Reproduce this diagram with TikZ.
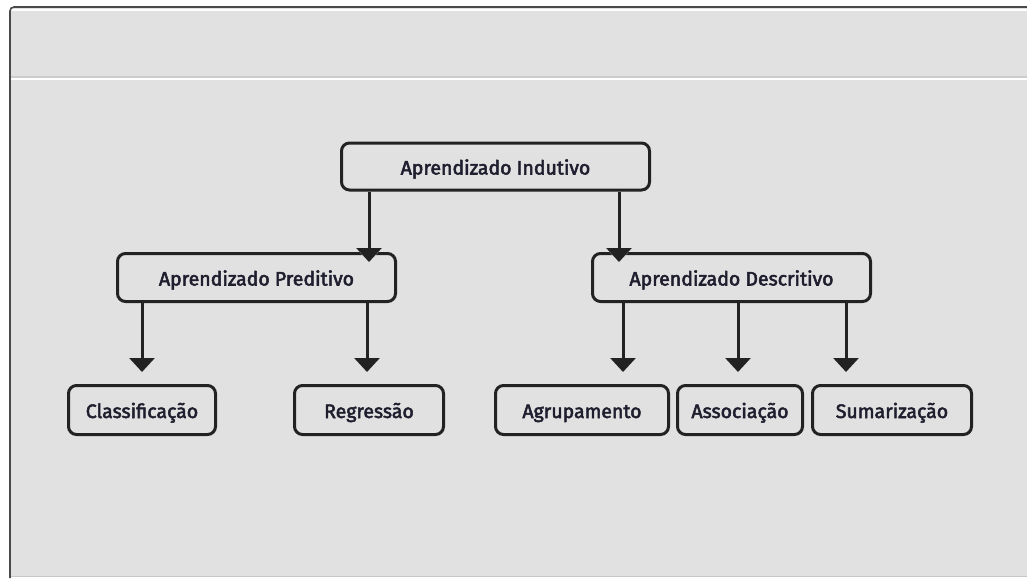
\documentclass[tikz,border=0pt]{standalone}
\usepackage{fontspec}
\setmainfont{Fira Sans}
\newfontfamily\boxfont[FakeBold=2.6]{Fira Sans}
\usetikzlibrary{arrows.meta,calc}
\definecolor{panel}{HTML}{E1E1E1}
\definecolor{frameline}{HTML}{4A4A4A}
\definecolor{ink}{HTML}{222222}
\definecolor{textc}{HTML}{1E1E2E}
\tikzset{
  box/.style={draw=ink, line width=3pt, rounded corners=8pt, fill=panel,
    inner sep=0pt, text height=17pt, text depth=1pt, text=textc,
    font=\boxfont\fontsize{19.5}{22}\selectfont},
  arr/.style={draw=ink, line width=3pt,
    -{Triangle[width=25pt,length=14pt]}},
  halo/.style={draw=panel, line width=7pt, shorten <=45pt,
    -{Triangle[width=33pt,length=18pt]}},
}
\begin{document}
\begin{tikzpicture}[x=1pt,y=-1pt]
  \useasboundingbox (0,0) rectangle (1027,578);
  % window panel
  \fill[white] (0,0) rectangle (1027,578);
  \fill[panel] (10,7) rectangle (1027,576);
  \draw[white, line width=2pt] (11,10) -- (1027,10);
  \draw[frameline, line width=1.6pt] (10,578) -- (10,11) arc[start angle=180, end angle=270, radius=4] -- (1027,7);
  \draw[black!20, line width=2pt] (11,76.5) -- (1027,76.5);
  \draw[white, line width=1.5pt] (11,79) -- (1027,79);
  \draw[black!22, line width=1.5pt] (11,576.5) -- (1027,576.5);

  % hierarchy of boxes
  \node[box, minimum width=308pt, minimum height=47pt] (ind) at (495.5,166.5) {Aprendizado Indutivo};
  \node[box, minimum width=278pt, minimum height=48pt] (pred) at (256.5,277.5) {Aprendizado Preditivo};
  \node[box, minimum width=278pt, minimum height=48pt] (desc) at (731.5,277.5) {Aprendizado Descritivo};
  \node[box, minimum width=147pt, minimum height=49pt] (cls) at (142,410) {Classificação};
  \node[box, minimum width=149pt, minimum height=49pt] (reg) at (369,410) {Regressão};
  \node[box, minimum width=173pt, minimum height=49pt] (agr) at (582,410) {Agrupamento};
  \node[box, minimum width=125pt, minimum height=49pt] (ass) at (740,410) {Associação};
  \node[box, minimum width=159pt, minimum height=49pt] (sum) at (892,410) {Sumarização};

  % arrows from the root, cutting into the top border of the children
  \foreach \dx/\child in {29/pred, 279/desc}{
    \draw[halo] ($(ind.south west)+(\dx,0)$) -- ($(ind.south west |- \child.north)+(\dx,10)$);
    \draw[arr] ($(ind.south west)+(\dx,0)$) -- ($(ind.south west |- \child.north)+(\dx,10)$);
  }
  % arrows to the leaves
  \draw[arr] ($(pred.south west)+(26,0)$) -- ($(pred.south west |- cls.north)+(26,-12)$);
  \draw[arr] ($(pred.south west)+(251,0)$) -- ($(pred.south west |- reg.north)+(251,-12)$);
  \draw[arr] ($(desc.south west)+(32,0)$) -- ($(desc.south west |- agr.north)+(32,-12)$);
  \draw[arr] ($(desc.south west)+(147,0)$) -- ($(desc.south west |- ass.north)+(147,-12)$);
  \draw[arr] ($(desc.south west)+(255,0)$) -- ($(desc.south west |- sum.north)+(255,-12)$);
\end{tikzpicture}
\end{document}
